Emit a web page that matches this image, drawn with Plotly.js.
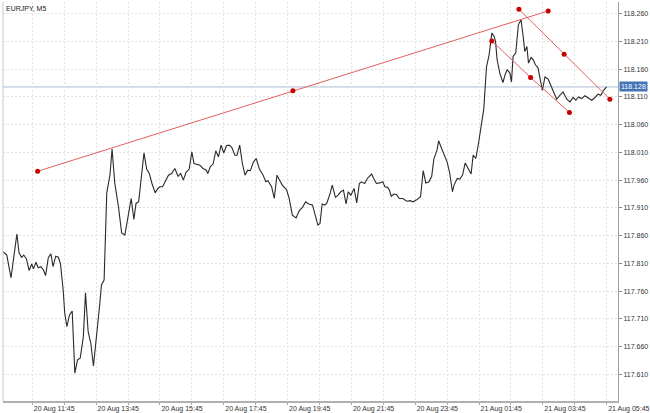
<!DOCTYPE html>
<html><head><meta charset="utf-8">
<script src="https://cdn.plot.ly/plotly-3.0.1.min.js"></script>
<style>html,body{margin:0;padding:0;background:#fff}#chart{width:650px;height:413px}</style>
</head><body><div id="chart"></div>
<script>
const symbolTitle = "EURJPY, M5";
const times = [
"2020-08-20 10:50","2020-08-20 10:57","2020-08-20 11:05","2020-08-20 11:09","2020-08-20 11:16","2020-08-20 11:20","2020-08-20 11:25","2020-08-20 11:29","2020-08-20 11:34","2020-08-20 11:39",
"2020-08-20 11:44","2020-08-20 11:47","2020-08-20 11:52","2020-08-20 11:56","2020-08-20 12:01","2020-08-20 12:06","2020-08-20 12:10","2020-08-20 12:15","2020-08-20 12:20","2020-08-20 12:24",
"2020-08-20 12:29","2020-08-20 12:34","2020-08-20 12:38","2020-08-20 12:43","2020-08-20 12:46","2020-08-20 12:50","2020-08-20 12:55","2020-08-20 13:00","2020-08-20 13:05","2020-08-20 13:10",
"2020-08-20 13:15","2020-08-20 13:21","2020-08-20 13:25","2020-08-20 13:30","2020-08-20 13:35","2020-08-20 13:40","2020-08-20 13:46","2020-08-20 13:52","2020-08-20 13:55","2020-08-20 14:00",
"2020-08-20 14:05","2020-08-20 14:11","2020-08-20 14:15","2020-08-20 14:20","2020-08-20 14:27","2020-08-20 14:33","2020-08-20 14:39","2020-08-20 14:51","2020-08-20 14:56","2020-08-20 15:00",
"2020-08-20 15:05","2020-08-20 15:10","2020-08-20 15:15","2020-08-20 15:20","2020-08-20 15:25","2020-08-20 15:30","2020-08-20 15:36","2020-08-20 15:41","2020-08-20 15:45","2020-08-20 15:50",
"2020-08-20 15:55","2020-08-20 16:01","2020-08-20 16:07","2020-08-20 16:13","2020-08-20 16:19","2020-08-20 16:24","2020-08-20 16:29","2020-08-20 16:34","2020-08-20 16:40","2020-08-20 16:45",
"2020-08-20 16:49","2020-08-20 16:54","2020-08-20 17:00","2020-08-20 17:06","2020-08-20 17:12","2020-08-20 17:15","2020-08-20 17:20","2020-08-20 17:25","2020-08-20 17:30","2020-08-20 17:35",
"2020-08-20 17:40","2020-08-20 17:45","2020-08-20 17:50","2020-08-20 17:55","2020-08-20 18:00","2020-08-20 18:06","2020-08-20 18:10","2020-08-20 18:15","2020-08-20 18:20","2020-08-20 18:25",
"2020-08-20 18:30","2020-08-20 18:35","2020-08-20 18:41","2020-08-20 18:46","2020-08-20 18:52","2020-08-20 18:59","2020-08-20 19:04","2020-08-20 19:08","2020-08-20 19:15","2020-08-20 19:20",
"2020-08-20 19:25","2020-08-20 19:30","2020-08-20 19:35","2020-08-20 19:43","2020-08-20 19:48","2020-08-20 19:54","2020-08-20 20:01","2020-08-20 20:07","2020-08-20 20:13","2020-08-20 20:19",
"2020-08-20 20:25","2020-08-20 20:32","2020-08-20 20:37","2020-08-20 20:42","2020-08-20 20:46","2020-08-20 20:50","2020-08-20 20:55","2020-08-20 20:59","2020-08-20 21:05","2020-08-20 21:09",
"2020-08-20 21:15","2020-08-20 21:20","2020-08-20 21:25","2020-08-20 21:30","2020-08-20 21:35","2020-08-20 21:39","2020-08-20 21:44","2020-08-20 21:50","2020-08-20 21:55","2020-08-20 22:00",
"2020-08-20 22:04","2020-08-20 22:10","2020-08-20 22:15","2020-08-20 22:23","2020-08-20 22:27","2020-08-20 22:32","2020-08-20 22:38","2020-08-20 22:44","2020-08-20 22:48","2020-08-20 22:53",
"2020-08-20 22:56","2020-08-20 23:00","2020-08-20 23:05","2020-08-20 23:10","2020-08-20 23:15","2020-08-20 23:22","2020-08-20 23:29","2020-08-20 23:35","2020-08-20 23:41","2020-08-20 23:47",
"2020-08-20 23:55","2020-08-21 00:00","2020-08-21 00:05","2020-08-21 00:11","2020-08-21 00:16","2020-08-21 00:20","2020-08-21 00:26","2020-08-21 00:29","2020-08-21 00:35","2020-08-21 00:40",
"2020-08-21 00:45","2020-08-21 00:50","2020-08-21 00:55","2020-08-21 00:58","2020-08-21 01:04","2020-08-21 01:09","2020-08-21 01:14","2020-08-21 01:19","2020-08-21 01:25","2020-08-21 01:30",
"2020-08-21 01:34","2020-08-21 01:39","2020-08-21 01:44","2020-08-21 01:49","2020-08-21 01:54","2020-08-21 01:59","2020-08-21 02:04","2020-08-21 02:09","2020-08-21 02:13","2020-08-21 02:16",
"2020-08-21 02:19","2020-08-21 02:24","2020-08-21 02:30","2020-08-21 02:34","2020-08-21 02:38","2020-08-21 02:43","2020-08-21 02:46","2020-08-21 02:49","2020-08-21 02:54","2020-08-21 02:59",
"2020-08-21 03:04","2020-08-21 03:08","2020-08-21 03:11","2020-08-21 03:15","2020-08-21 03:18","2020-08-21 03:23","2020-08-21 03:27","2020-08-21 03:31","2020-08-21 03:36","2020-08-21 03:44",
"2020-08-21 03:49","2020-08-21 03:55","2020-08-21 04:00","2020-08-21 04:05","2020-08-21 04:11","2020-08-21 04:17","2020-08-21 04:23","2020-08-21 04:30","2020-08-21 04:36","2020-08-21 04:42",
"2020-08-21 04:47","2020-08-21 04:52","2020-08-21 04:58","2020-08-21 05:04","2020-08-21 05:10","2020-08-21 05:17","2020-08-21 05:23","2020-08-21 05:29","2020-08-21 05:34","2020-08-21 05:39",
"2020-08-21 05:45"
];
const prices = [
117.831,117.825,117.784,117.813,117.863,117.829,117.821,117.825,117.818,117.797,
117.809,117.800,117.812,117.802,117.804,117.798,117.788,117.820,117.827,117.804,
117.823,117.821,117.809,117.762,117.720,117.696,117.717,117.724,117.612,117.636,
117.639,117.678,117.757,117.687,117.666,117.625,117.678,117.738,117.771,117.780,
117.937,117.969,118.016,117.955,117.912,117.865,117.861,117.927,117.889,117.918,
117.921,117.972,118.009,117.980,117.972,117.954,117.937,117.945,117.948,117.948,
117.957,117.969,117.972,117.981,117.967,117.972,117.960,117.974,117.980,118.011,
117.990,117.989,117.987,117.981,117.978,117.972,117.985,117.989,118.013,118.002,
118.023,118.009,118.022,118.023,118.019,118.005,118.005,118.023,117.990,117.969,
117.978,117.977,117.993,117.999,117.980,117.969,117.957,117.959,117.948,117.927,
117.969,117.960,117.951,117.943,117.927,117.897,117.892,117.905,117.911,117.921,
117.917,117.915,117.894,117.879,117.882,117.917,117.915,117.919,117.936,117.951,
117.929,117.933,117.939,117.942,117.917,117.939,117.933,117.945,117.919,117.954,
117.957,117.954,117.963,117.971,117.963,117.954,117.955,117.957,117.948,117.947,
117.943,117.931,117.935,117.934,117.927,117.927,117.922,117.923,117.921,117.924,
117.930,117.977,117.955,117.957,117.967,117.998,118.014,118.031,118.016,118.004,
117.993,117.972,117.939,117.951,117.963,117.962,117.969,117.991,117.980,117.971,
118.005,117.999,118.026,118.056,118.089,118.164,118.186,118.225,118.220,118.210,
118.177,118.153,118.136,118.150,118.159,118.153,118.137,118.183,118.189,118.240,
118.249,118.219,118.192,118.201,118.171,118.181,118.177,118.168,118.162,118.122,
118.146,118.142,118.131,118.117,118.106,118.113,118.119,118.106,118.101,118.109,
118.104,118.110,118.107,118.112,118.109,118.104,118.109,118.115,118.113,118.122,
118.128
];
// Trend line (long) : start, middle handle, end
const trendTimes = ["2020-08-20 11:55","2020-08-20 19:55","2020-08-21 03:55"];
const trendPrices = [117.976, 118.121, 118.265];
// Channel upper line
const chanUpTimes = ["2020-08-21 03:00","2020-08-21 04:25","2020-08-21 05:51"];
const chanUpPrices = [118.268, 118.187, 118.106];
// Channel lower line
const chanLowTimes = ["2020-08-21 02:09","2020-08-21 03:22","2020-08-21 04:35"];
const chanLowPrices = [118.211, 118.145, 118.082];
const currentPrice = 118.128;
const currentPriceLabel = "118.128";
const xRange = ["2020-08-20 10:49:54","2020-08-21 06:06:18"];
const yRange = [117.5619, 118.2811];
const xTickVals = ["2020-08-20 11:45","2020-08-20 12:45","2020-08-20 13:45","2020-08-20 14:45","2020-08-20 15:45","2020-08-20 16:45","2020-08-20 17:45","2020-08-20 18:45","2020-08-20 19:45","2020-08-20 20:45","2020-08-20 21:45","2020-08-20 22:45","2020-08-20 23:45","2020-08-21 00:45","2020-08-21 01:45","2020-08-21 02:45","2020-08-21 03:45","2020-08-21 04:45","2020-08-21 05:45"];
const xTickText = ["20 Aug 11:45","","20 Aug 13:45","","20 Aug 15:45","","20 Aug 17:45","","20 Aug 19:45","","20 Aug 21:45","","20 Aug 23:45","","21 Aug 01:45","","21 Aug 03:45","","21 Aug 05:45"];
const yTickVals = [117.610,117.660,117.710,117.760,117.810,117.860,117.910,117.960,118.010,118.060,118.110,118.160,118.210,118.260];
const yTickText = ["117.610","117.660","117.710","117.760","117.810","117.860","117.910","117.960","118.010","118.060","118.110","118.160","118.210","118.260"];

const redLine = 'rgb(226,96,96)';
const redDot = 'rgb(200,0,0)';
function handleTrace(x, y) {
  return {x: x, y: y, type: 'scatter', mode: 'lines+markers',
    line: {color: redLine, width: 1}, marker: {color: redDot, size: 5}, hoverinfo: 'skip'};
}
const data = [
  {x: times, y: prices, type: 'scatter', mode: 'lines', line: {color: '#2a2a2a', width: 1.1}},
  handleTrace(trendTimes, trendPrices),
  handleTrace(chanUpTimes, chanUpPrices),
  handleTrace(chanLowTimes, chanLowPrices)
];
const gridC = '#e3e3e3';
const layout = {
  width: 650, height: 413,
  margin: {l: 3, r: 32, t: 2, b: 12, pad: 0},
  paper_bgcolor: '#fff', plot_bgcolor: '#fff', showlegend: false,
  font: {family: 'Liberation Sans, Arial, sans-serif', size: 7, color: '#333'},
  xaxis: {type: 'date', range: xRange, tickvals: xTickVals, ticktext: xTickText,
    ticklabelposition: 'outside right', ticks: 'outside', ticklen: 2, tickcolor: '#aaa',
    showgrid: true, gridcolor: gridC, griddash: '2px,2px', gridwidth: 1,
    showline: true, linecolor: '#b0b0b0', linewidth: 2, zeroline: false, fixedrange: true,
    tickfont: {size: 7, color: '#333'}},
  yaxis: {side: 'right', range: yRange, tickvals: yTickVals, ticktext: yTickText,
    ticks: 'outside', ticklen: 3, tickcolor: '#888',
    showgrid: true, gridcolor: gridC, griddash: '2px,2px', gridwidth: 1,
    showline: true, linecolor: '#a0a0a0', linewidth: 1, zeroline: false, fixedrange: true,
    tickfont: {size: 7, color: '#333'}},
  shapes: [
    {type: 'line', xref: 'paper', x0: 0, x1: 1, yref: 'y', y0: currentPrice, y1: currentPrice,
     line: {color: '#a9bcd5', width: 1}, layer: 'below'},
    {type: 'line', xref: 'paper', x0: 0, x1: 0, yref: 'paper', y0: 0, y1: 1,
     line: {color: '#c8c8c8', width: 1}}
  ],
  annotations: [
    {xref: 'paper', yref: 'paper', x: 0, y: 1, xanchor: 'left', yanchor: 'top', xshift: 1, yshift: -1,
     text: symbolTitle, showarrow: false, font: {size: 7, color: '#222'}},
    {xref: 'paper', yref: 'y', x: 1, y: currentPrice, xanchor: 'left', yanchor: 'middle', xshift: 1,
     text: currentPriceLabel, showarrow: false, bgcolor: '#4574b5', borderpad: 1,
     font: {size: 7, color: '#fff'}}
  ]
};
Plotly.newPlot('chart', data, layout, {displayModeBar: false, staticPlot: true});
</script></body></html>
